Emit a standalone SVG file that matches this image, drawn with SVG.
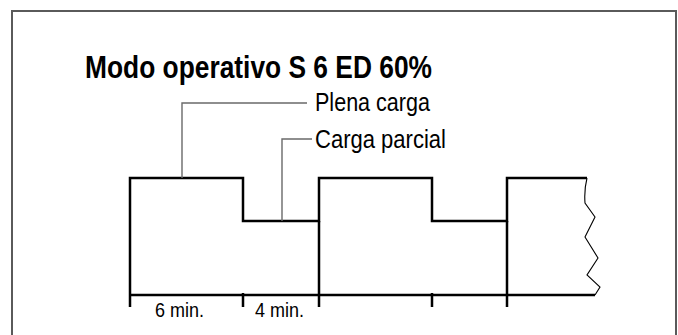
<svg xmlns="http://www.w3.org/2000/svg" width="678" height="335" viewBox="0 0 678 335">
<style>
.frame{fill:none;stroke:#5a5a5a;stroke-width:2}
.wave{fill:none;stroke:#000;stroke-width:2.5;stroke-linejoin:miter;stroke-linecap:butt}
.zig{fill:none;stroke:#000;stroke-width:1.1;stroke-linejoin:miter}
.leader{fill:none;stroke:#6a6a6a;stroke-width:1.4}
.t{font-family:"Liberation Sans",Arial,sans-serif;fill:#000}
.title{font-size:31px;font-weight:bold}
.lbl{font-size:25px}
.dur{font-size:21px}
</style>
<rect width="678" height="335" fill="#fff"/>
<g id="frame">
<path class="frame" d="M12,340 V11 H676 V340"/>
</g>
<g id="title">
<text class="t title" x="85" y="78" textLength="347" lengthAdjust="spacingAndGlyphs">Modo operativo S 6 ED 60%</text>
</g>
<g id="waveform">
<path class="wave" d="M130,307 V178 H243 V221 H319 V178 H432 V221 H507 V178 H587"/>
<path class="wave" d="M319,221 V307 M507,221 V307 M130,295 H595 M243,293 V307 M432,293 V307"/>
<path class="zig" d="M587,178 Q584,190 585,203 L595,217 L585,237 L598,258 L587,275 L600,287 L595,295"/>
</g>
<g id="connectors">
<path class="leader" d="M182,178 V103 H307"/>
<path class="leader" d="M282,221 V139 H312"/>
</g>
<g id="label-plena">
<text class="t lbl" x="315" y="111" textLength="115" lengthAdjust="spacingAndGlyphs">Plena carga</text>
</g>
<g id="label-parcial">
<text class="t lbl" x="315" y="148" textLength="131" lengthAdjust="spacingAndGlyphs">Carga parcial</text>
</g>
<g id="dur-6">
<text class="t dur" x="155" y="317" textLength="49" lengthAdjust="spacingAndGlyphs">6 min.</text>
</g>
<g id="dur-4">
<text class="t dur" x="255" y="317" textLength="49" lengthAdjust="spacingAndGlyphs">4 min.</text>
</g>
</svg>
